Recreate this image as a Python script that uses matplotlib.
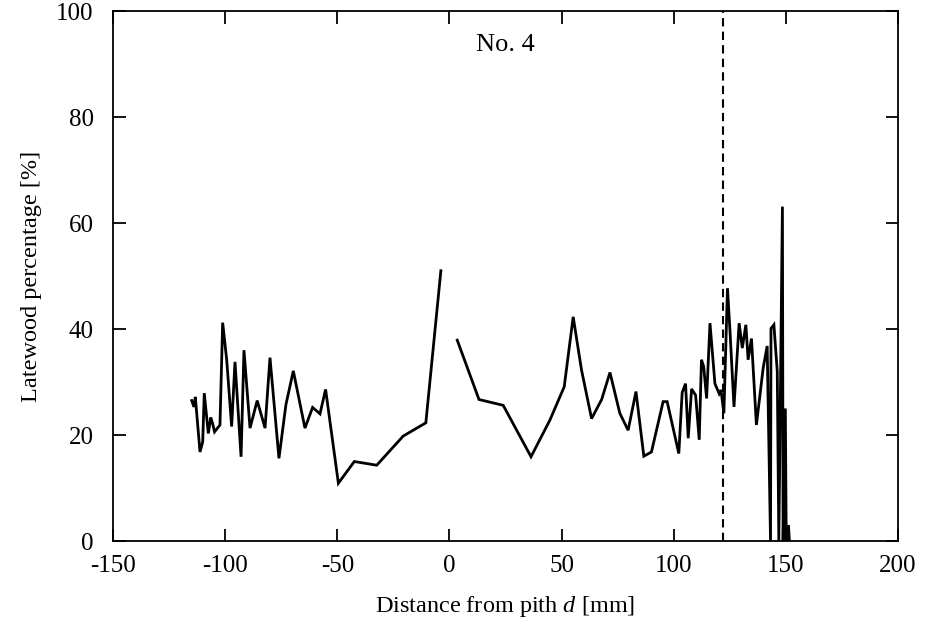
import numpy as np
import matplotlib
matplotlib.use('Agg')
import matplotlib.pyplot as plt

# ── data (No. 4) ─────────────────────────────────────────────────
# pith side with negative distance
d_left = [-114.9, -113.9, -113.3, -111.2, -110.0, -109.3, -107.5, -106.4,
          -105.6, -104.7, -102.3, -101.1, -99.3, -97.1, -95.6, -92.9, -91.6,
          -88.9, -85.7, -82.2, -80.0, -76.0, -72.9, -69.6, -64.4, -61.0,
          -57.7, -55.2, -49.5, -42.4, -32.4, -20.6, -10.5, -3.8]
lw_left = [26.5, 25.3, 27.2, 16.8, 18.7, 27.9, 20.3, 23.3, 22.2, 20.6, 21.9,
           41.2, 34.2, 21.6, 33.8, 15.9, 36.0, 21.3, 26.5, 21.3, 34.6, 15.6,
           25.7, 32.1, 21.3, 25.2, 24.0, 28.6, 10.9, 15.0, 14.3, 19.8, 22.3,
           51.0]

# side with positive distance
d_right = [3.5, 13.2, 24.0, 36.4, 44.8, 51.2, 55.2, 58.9, 63.4, 67.9, 71.6,
           76.0, 79.7, 83.2, 86.7, 90.1, 95.3, 97.1, 102.3, 103.8, 105.3,
           106.5, 108.0, 109.8, 111.4, 112.4, 113.4, 114.7, 116.2, 118.4,
           120.3, 121.1, 122.4, 124.0, 125.1, 126.9, 129.2, 130.6, 132.2,
           133.2, 134.7, 136.9, 139.9, 141.7, 143.2, 143.4, 144.7, 146.2,
           146.9, 148.5, 148.8, 149.8, 150.2, 151.2, 151.6]
lw_right = [37.9, 26.7, 25.6, 15.9, 22.8, 29.1, 42.3, 32.3, 23.1, 26.7, 31.8,
            24.1, 20.9, 28.2, 16.0, 16.8, 26.3, 26.3, 16.5, 28.0, 29.7, 19.4,
            28.7, 27.5, 19.1, 34.2, 32.9, 26.9, 41.1, 29.7, 27.8, 28.5, 24.1,
            47.7, 39.8, 25.3, 41.1, 36.4, 40.8, 34.2, 38.2, 21.9, 32.6, 36.8,
            0.0, 40.1, 40.8, 32.0, 0.0, 63.1, 0.0, 25.0, 0.0, 3.0, 0.0]

boundary_d = 122.0   # dashed marker line

x_ticks = [-150, -100, -50, 0, 50, 100, 150, 200]
y_ticks = [0, 20, 40, 60, 80, 100]

# ── style ────────────────────────────────────────────────────────
plt.rcParams['font.family'] = ['Liberation Serif', 'DejaVu Serif']
plt.rcParams['mathtext.fontset'] = 'custom'
plt.rcParams['mathtext.rm'] = 'Liberation Serif'
plt.rcParams['mathtext.it'] = 'Liberation Serif:italic'
plt.rcParams['axes.unicode_minus'] = False

fig = plt.figure(figsize=(9.3, 6.23), dpi=100)
ax = fig.add_axes([0.1215, 0.1316, 0.844, 0.8507])

ax.plot(d_left, lw_left, color='black', lw=2.0, solid_joinstyle='miter')
ax.plot(d_right, lw_right, color='black', lw=2.0, solid_joinstyle='miter')
ax.axvline(boundary_d, color='black', lw=1.5, linestyle=(0, (4, 2.5)))

ax.set_xlim(-150, 200)
ax.set_ylim(0, 100)
ax.set_xticks(x_ticks)
ax.set_yticks(y_ticks)
ax.tick_params(direction='in', length=9, width=1.3, labelsize=18,
               top=True, right=True)
ax.tick_params(axis='x', pad=10)
ax.tick_params(axis='y', pad=14)
for s in ax.spines.values():
    s.set_linewidth(1.3)

ax.set_xlabel('Distance from pith $d$ [mm]', fontsize=17.5, labelpad=12)
ax.set_ylabel('Latewood percentage [%]', fontsize=17.5, labelpad=10)
ax.text(0.5, 0.935, 'No. 4', transform=ax.transAxes, ha='center',
        va='center', fontsize=19)

fig.savefig('out.png', dpi=100)
